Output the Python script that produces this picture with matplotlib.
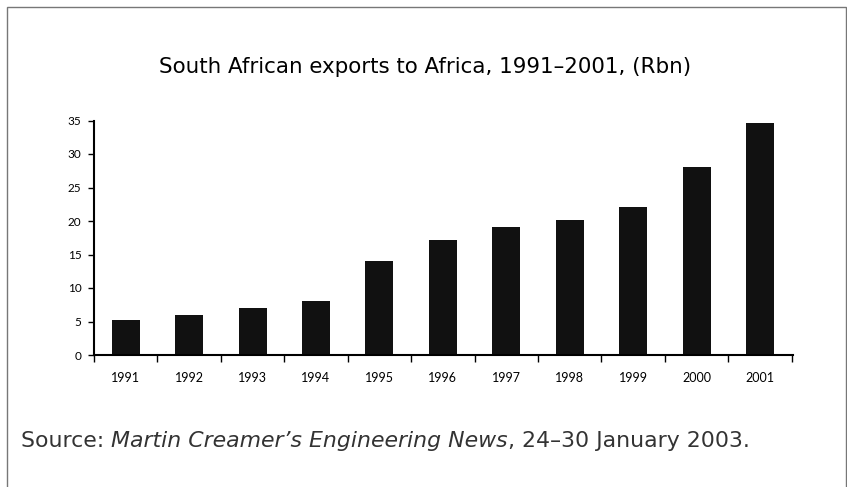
import numpy as np
import matplotlib
matplotlib.use("Agg")
import matplotlib.pyplot as plt
from matplotlib.patches import Rectangle

# data
years = ["1991", "1992", "1993", "1994", "1995", "1996",
         "1997", "1998", "1999", "2000", "2001"]
exports = [5.2, 6, 7, 8, 14.1, 17.1, 19.1, 20.1, 22.1, 28.1, 34.7]
yticks = [0, 5, 10, 15, 20, 25, 30, 35]

W, H = 847, 487
fig = plt.figure(figsize=(W / 100, H / 100), dpi=100)
fig.patch.set_facecolor("white")

# outer frame
fig.patches.append(Rectangle((7 / W, -0.02), (846 - 7) / W, (H - 7) / H + 0.02,
                             transform=fig.transFigure, fill=False,
                             ec="#777777", lw=1.0))

ax = fig.add_axes([94 / W, (H - 355) / H, (793 - 94) / W, (355 - 120.5) / H])
x = np.arange(len(years))
ax.bar(x, exports, width=0.44, color="#111111")

ax.set_xlim(-0.48, 10.52)
ax.set_ylim(0, 35)
ax.set_yticks(yticks)
ax.set_yticklabels([str(v) for v in yticks], fontsize=8.5, family="Lato")
ax.set_xticks(np.arange(len(years) + 1) - 0.5, minor=False)
ax.set_xticklabels([])
ax.set_xticks(x, minor=True)
ax.set_xticklabels(years, minor=True, fontsize=9, family="Lato")
ax.tick_params(axis="x", which="minor", length=0, pad=12)
ax.tick_params(axis="x", which="major", length=5, width=1, direction="out")
ax.tick_params(axis="y", length=4, width=1, direction="out", pad=5)

for s in ["top", "right"]:
    ax.spines[s].set_visible(False)
ax.spines["left"].set_linewidth(1.5)
ax.spines["bottom"].set_linewidth(1.5)

fig.text(425 / W, (H - 67) / H, "South African exports to Africa, 1991\u20132001, (Rbn)",
         ha="center", va="center", fontsize=15.4, family="DejaVu Sans")

# source line, built piece by piece
parts = [("Source: ", "normal"),
         ("Martin Creamer\u2019s Engineering News", "italic"),
         (", 24\u201330 January 2003.", "normal")]
fig.canvas.draw()
r = fig.canvas.get_renderer()
xpos = 21
for txt, st in parts:
    t = fig.text(xpos / W, (H - 441) / H, txt, ha="left", va="center",
                 fontsize=15.8, style=st,
                 family="DejaVu Sans", color="#333333")
    bb = t.get_window_extent(renderer=r)
    xpos += bb.width

fig.savefig("out.png", dpi=100)
